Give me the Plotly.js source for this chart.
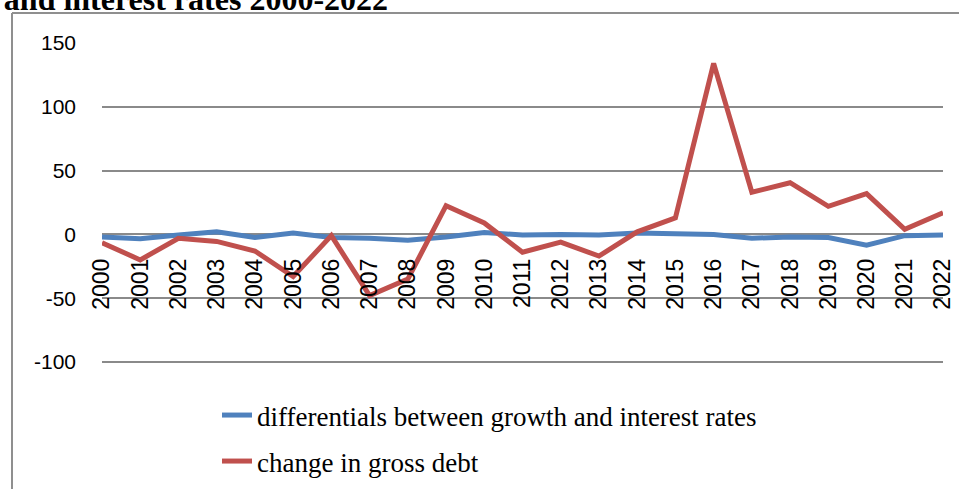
<!DOCTYPE html>
<html>
<head>
<meta charset="utf-8">
<script src="https://cdn.plot.ly/plotly-3.0.1.min.js"></script>
<style>
html,body{margin:0;padding:0;background:#fff;}
#chart{width:959px;height:489px;}
</style>
</head>
<body>
<div id="chart"></div>
<script>
const years = ["2000","2001","2002","2003","2004","2005","2006","2007","2008","2009","2010","2011","2012","2013","2014","2015","2016","2017","2018","2019","2020","2021","2022"];
const differentials = [-2,-3.5,-0.5,2,-2.5,1,-2.5,-3,-4.5,-2,1.5,-0.5,0,-0.5,1,0.8,0,-3,-2,-2.5,-8.5,-1,-0.5];
const grossDebtChange = [-6.5,-20,-3,-5.5,-13,-33,-1,-48,-35,22.5,9,-14,-6,-17,2,13,134,33,40.5,22,32,4,17];
const seriesNames = ["differentials between growth and interest rates","change in gross debt"];
const yTickVals = [-100,-50,0,50,100,150];
const yTickLabels = ["-100","-50","0","50","100","150"];
const titleText = "and interest rates 2000-2022";

const traces = [
  {x: years, y: differentials, name: seriesNames[0], type: 'scatter', mode: 'lines',
   line: {color: '#4F81BD', width: 5}, legend: 'legend'},
  {x: years, y: grossDebtChange, name: seriesNames[1], type: 'scatter', mode: 'lines',
   line: {color: '#C0504D', width: 5}, legend: 'legend2'}
];

const W = 959, H = 489;
const m = {l: 102, r: 16, t: 43, b: 0};
const pw = W - m.l - m.r, ph = H - m.t - m.b;   // paper area 841 x 446
const plotBottom = 363;                          // pixel y of -100
const yDom0 = (H - plotBottom) / ph;
const yDomH = 1 - yDom0;
const py = (pix) => (H - pix) / ph;
const px = (pix) => (pix - m.l) / pw;

const legendFont = {family: 'Liberation Serif', size: 27, color: '#000'};

const layout = {
  width: W, height: H,
  margin: m,
  paper_bgcolor: '#ffffff', plot_bgcolor: '#ffffff',
  showlegend: true,
  title: {text: '<b>' + titleText + '</b>', font: {family: 'Liberation Serif', size: 32, color: '#000'},
          xref: 'container', yref: 'container', x: 0.004, xanchor: 'left', y: 0.979, yanchor: 'bottom', automargin: false},
  xaxis: {type: 'category', anchor: 'free', position: yDom0 + 0.4 * yDomH, tickangle: -90,
          showgrid: false, showline: false, zeroline: false, ticks: '',
          tickfont: {family: 'Liberation Sans', size: 23, color: '#000'},
          ticklabelstandoff: 18, fixedrange: true, automargin: false},
  yaxis: {domain: [yDom0, 1], range: [-100.8, 150], tickvals: yTickVals, ticktext: yTickLabels, ticks: '',
          showgrid: true, gridcolor: '#8a8a8a', gridwidth: 2,
          zeroline: true, zerolinecolor: '#8a8a8a', zerolinewidth: 2,
          showline: false,
          tickfont: {family: 'Liberation Sans', size: 21, color: '#000'},
          ticklabelstandoff: 25, fixedrange: true, automargin: false},
  legend: {x: px(217), y: py(391), xanchor: 'left', yanchor: 'top',
           bgcolor: 'rgba(0,0,0,0)', font: legendFont},
  legend2: {x: px(217), y: py(437), xanchor: 'left', yanchor: 'top',
            bgcolor: 'rgba(0,0,0,0)', font: legendFont},
  shapes: [
    {type: 'line', xref: 'paper', yref: 'paper',
     x0: px(12), x1: px(W + 5), y0: py(13), y1: py(13),
     line: {color: '#8f8f8f', width: 2}},
    {type: 'line', xref: 'paper', yref: 'paper',
     x0: px(12), x1: px(12), y0: py(13), y1: py(H + 10),
     line: {color: '#8f8f8f', width: 2}}
  ]
};

Plotly.newPlot('chart', traces, layout, {displayModeBar: false, staticPlot: true});
</script>
</body>
</html>
